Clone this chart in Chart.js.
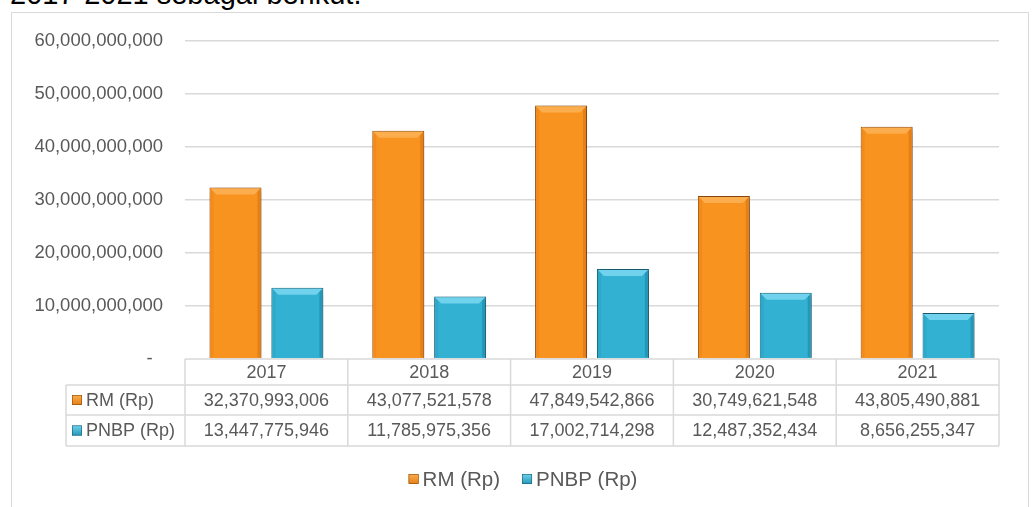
<!DOCTYPE html>
<html>
<head>
<meta charset="utf-8">
<script src="https://cdn.jsdelivr.net/npm/chart.js@4/dist/chart.umd.min.js"></script>
<style>
  html, body { margin: 0; padding: 0; background: #fff; overflow: hidden; }
  body { width: 1032px; height: 507px; position: relative; font-family: "Liberation Sans", Arial, sans-serif; }
  #lead { position: absolute; left: 10px; top: -20px; font-size: 29px; line-height: 29px; color: #000; white-space: nowrap; }
  #frame { position: absolute; left: 11px; top: 12px; width: 1016px; height: 600px; border: 1.5px solid #d9d9d9; }
  #wrap { position: absolute; left: 0; top: 0; width: 1032px; height: 507px; }
</style>
</head>
<body>
<div id="lead">2017-2021 sebagai berikut.</div>
<div id="frame"></div>
<div id="wrap"><canvas id="chart"></canvas></div>
<script>
// data dari tabel
const years = ['2017', '2018', '2019', '2020', '2021'];
const rmValues = [32370993006, 43077521578, 47849542866, 30749621548, 43805490881];
const pnbpValues = [13447775946, 11785975356, 17002714298, 12487352434, 8656255347];
const seriesNames = ['RM (Rp)', 'PNBP (Rp)'];
const yTicks = [0, 10000000000, 20000000000, 30000000000, 40000000000, 50000000000, 60000000000];

const FONT = '"Liberation Sans", Arial, sans-serif';
const TEXT = '#595959';
const LINE = '#d9d9d9';

// warna: badan, bevel atas, sisi kiri, sisi kanan, tepi
const palette = [
  { body: '#F7931E', top: '#FCAE4E', left: '#F28B1B', right: '#E57F16', edge: '#8E4A0E' },
  { body: '#32B1D2', top: '#70D2EC', left: '#2DA9CA', right: '#2598B8', edge: '#165F73' }
];

const fmt = v => v.toLocaleString('en-US');

function marker(ctx, x, y, s, p) {
  const g = ctx.createLinearGradient(x, y, x, y + s);
  g.addColorStop(0, p.top);
  g.addColorStop(1, p.right);
  ctx.fillStyle = g;
  ctx.fillRect(x, y, s, s);
  ctx.strokeStyle = p.edge;
  ctx.lineWidth = 0.6;
  ctx.strokeRect(x + 0.3, y + 0.3, s - 0.6, s - 0.6);
}

const bevelPlugin = {
  id: 'bevel',
  beforeDatasetsDraw(chart) {
    const ctx = chart.ctx;
    ctx.save();
    ctx.shadowColor = 'rgba(0,0,0,0.3)';
    ctx.shadowBlur = 6;
    ctx.shadowOffsetX = 3;
    ctx.shadowOffsetY = 2;
  },
  afterDatasetsDraw(chart) {
    const ctx = chart.ctx;
    ctx.restore();
    chart.data.datasets.forEach((ds, di) => {
      const p = palette[di];
      chart.getDatasetMeta(di).data.forEach(bar => {
        const { x, y, base, width } = bar.getProps(['x', 'y', 'base', 'width'], true);
        const x0 = x - width / 2 + 1, x1 = x + width / 2 - 1, y0 = y + 1, y1 = base - 1;
        const b = 6, s = 3;
        ctx.save();
        ctx.fillStyle = p.left;
        ctx.fillRect(x0, y0, s, y1 - y0);
        ctx.fillStyle = p.right;
        ctx.fillRect(x1 - s, y0, s, y1 - y0);
        ctx.fillStyle = p.top;
        ctx.beginPath();
        ctx.moveTo(x0, y0); ctx.lineTo(x1, y0); ctx.lineTo(x1 - b, y0 + b); ctx.lineTo(x0 + b, y0 + b);
        ctx.closePath(); ctx.fill();
        ctx.restore();
      });
    });
  }
};

const tablePlugin = {
  id: 'dataTable',
  afterDraw(chart) {
    const ctx = chart.ctx;
    const area = chart.chartArea;
    const xs = chart.scales.x;
    const colW = (area.right - area.left) / years.length;
    const labelLeft = 66;
    const rows = [area.bottom, area.bottom + 26, area.bottom + 56, area.bottom + 87];
    const rowVals = [rmValues, pnbpValues];

    ctx.save();
    ctx.strokeStyle = LINE;
    ctx.lineWidth = 1.5;
    ctx.beginPath();
    ctx.moveTo(area.left, rows[0]); ctx.lineTo(area.right, rows[0]);
    for (let r = 1; r < rows.length; r++) {
      ctx.moveTo(labelLeft, rows[r]); ctx.lineTo(area.right, rows[r]);
    }
    ctx.moveTo(labelLeft, rows[1]); ctx.lineTo(labelLeft, rows[3]);
    for (let c = 0; c <= years.length; c++) {
      const cx = area.left + c * colW;
      ctx.moveTo(cx, rows[0]); ctx.lineTo(cx, rows[3]);
    }
    ctx.stroke();

    ctx.fillStyle = TEXT;
    ctx.font = '18px ' + FONT;
    ctx.textBaseline = 'middle';
    ctx.textAlign = 'center';
    years.forEach((yr, i) => {
      const cx = xs.getPixelForValue(i);
      ctx.fillText(yr, cx, (rows[0] + rows[1]) / 2 + 1);
      rowVals.forEach((vals, r) => {
        ctx.fillText(fmt(vals[i]), cx, (rows[r + 1] + rows[r + 2]) / 2 + 1);
      });
    });

    ctx.textAlign = 'left';
    seriesNames.forEach((name, r) => {
      const cy = (rows[r + 1] + rows[r + 2]) / 2;
      marker(ctx, 72, cy - 5, 10, palette[r]);
      ctx.fillStyle = TEXT;
      ctx.fillText(name, 86, cy + 1);
    });

    // legenda bawah
    ctx.font = '20.5px ' + FONT;
    const gap = 22, box = 10, pad = 4;
    const widths = seriesNames.map(n => box + pad + ctx.measureText(n).width);
    const total = widths[0] + gap + widths[1];
    let lx = 523 - total / 2;
    const ly = 479;
    seriesNames.forEach((name, i) => {
      marker(ctx, lx, ly - 5, box, palette[i]);
      ctx.fillStyle = TEXT;
      ctx.fillText(name, lx + box + pad, ly + 1);
      lx += widths[i] + gap;
    });
    ctx.restore();
  }
};

new Chart(document.getElementById('chart'), {
  type: 'bar',
  data: {
    labels: years,
    datasets: [
      { label: seriesNames[0], data: rmValues, backgroundColor: palette[0].body, borderColor: palette[0].edge, borderWidth: 1 },
      { label: seriesNames[1], data: pnbpValues, backgroundColor: palette[1].body, borderColor: palette[1].edge, borderWidth: 1 }
    ]
  },
  options: {
    responsive: true,
    maintainAspectRatio: false,
    animation: false,
    events: [],
    categoryPercentage: 0.76,
    barPercentage: 0.84,
    layout: { padding: { left: 0, right: 33, top: 41, bottom: 148 } },
    plugins: { legend: { display: false }, tooltip: { enabled: false } },
    scales: {
      x: { display: false },
      y: {
        min: 0,
        max: 60000000000,
        afterBuildTicks: s => { s.ticks = yTicks.map(v => ({ value: v })); },
        afterFit: s => { s.width = 185; },
        border: { display: false },
        grid: {
          color: ctx => ctx.tick && ctx.tick.value === 0 ? 'rgba(0,0,0,0)' : LINE,
          lineWidth: 1.5,
          drawTicks: false
        },
        ticks: {
          padding: 22,
          color: TEXT,
          font: { family: FONT, size: 18.5 },
          callback: v => v === 0 ? '-  ' : fmt(v)
        }
      }
    }
  },
  plugins: [bevelPlugin, tablePlugin]
});
</script>
</body>
</html>
